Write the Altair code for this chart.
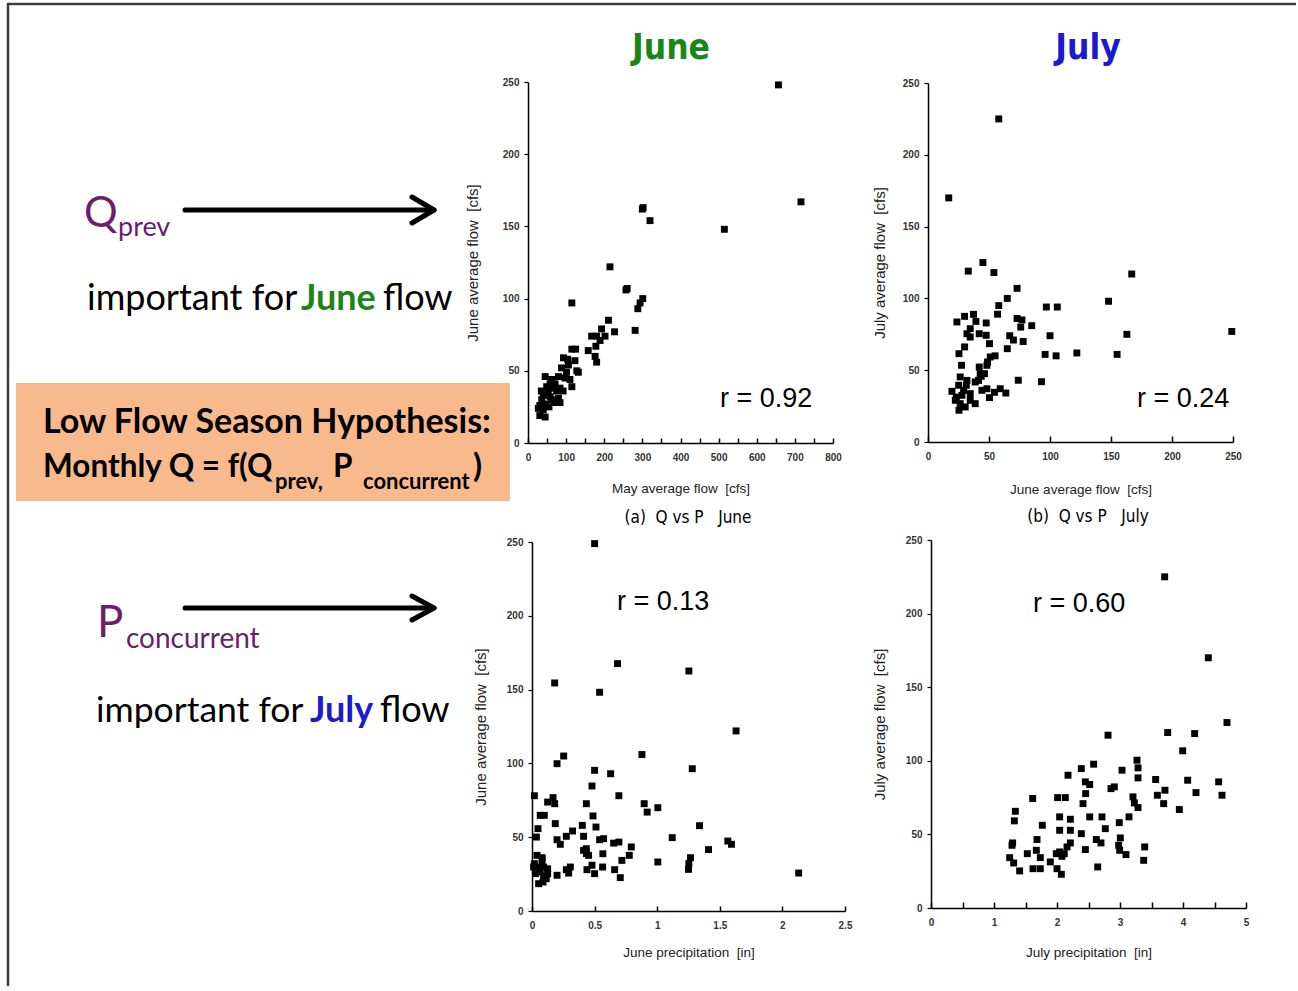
import altair as alt
import pandas as pd

W, H = 1296, 986

# ---------------- data ----------------
# (a) May average flow vs June average flow
a_may = [657, 716, 515, 300, 302, 320, 215, 115, 257, 260, 301, 294, 288, 211, 227, 281, 193, 180, 167, 202,
         189, 178, 176, 180, 158, 115, 125, 93, 123, 106, 128, 132, 101, 88, 80, 97, 71, 115, 84, 58,
         45, 62, 49, 75, 53, 40, 80, 62, 36, 84, 45, 31, 27, 40, 31, 45, 58, 66, 53,
         68, 92, 110, 104, 55, 35]
a_june = [248, 167, 148, 162, 163, 154, 122, 97, 106, 107, 100, 97, 93, 85, 77, 78, 79, 74, 74, 74,
          71, 67, 60, 56, 64, 65, 65, 59, 57, 54, 50, 49, 49, 52, 46, 45, 41, 39, 38, 41,
          46, 44, 39, 36, 34, 33, 31, 30, 30, 28, 27, 26, 24, 23, 19, 18, 32, 38, 38,
          28, 36, 44, 58, 25, 36]

# (b) June average flow vs July average flow
b_june = [58, 17, 45, 33, 54, 167, 148, 73, 65, 58, 57, 97, 106, 249, 163, 100, 85, 77, 76, 73,
          78, 70, 67, 65, 122, 96, 105, 155, 93, 74, 55,
          23.7, 30, 37.3, 39.3, 34.6, 31.9, 34.6, 30, 25.4, 27.5, 26.4, 31.9, 25.1, 19.6, 23.2, 26.4, 25.4,
          30.5, 34.6, 38.7, 38.7, 42.8, 42, 48.3, 46.3, 48.3, 44.2, 41.4, 50.4, 59.2, 63.8, 54.5, 47.7, 42,
          47.7, 50.4, 48.8, 43.6, 51, 29.2, 22.4, 27.8, 34.6, 31.4]
b_july = [225, 170, 125, 119, 118, 117, 98, 107, 100, 95, 89, 94, 94, 77, 75, 74, 81, 85, 80, 86,
          70, 71, 74, 65, 62, 61, 60, 61, 42, 43, 60,
          83.6, 87.5, 88.9, 84, 78.9, 75.4, 73.1, 66.2, 61.5, 53.4, 45.3, 42.9, 39.5, 35.3, 31.3, 26.7, 22.1,
          24.4, 33.7, 26.7, 41.8, 47.6, 52.2, 53.4, 47.6, 37.1, 36, 42.9, 30.9, 37.1, 34.1, 34.6, 74.3, 75.4,
          82.9, 68.5, 55.7, 45.7, 59.2, 36, 29, 32.5, 29, 39.5]

# (c) June precipitation vs June average flow
c_prec = [0.5, 0.683, 1.253, 0.181, 0.54, 1.63, 0.878, 0.253, 0.2, 1.28, 0.5, 0.628, 0.479, 0.019, 0.694,
          0.168, 0.181, 0.125, 0.434, 0.896, 0.92, 1.005, 0.066, 0.098, 0.487, 1.338, 0.186, 0.402, 0.511,
          0.048, 0.035, 0.324, 0.274, 0.2, 0.226, 0.412, 0.572, 0.54, 0.652, 0.694, 1.12, 1.564, 1.593, 1.41,
          0.793, 0.777, 0.718, 0.434, 0.434, 0.452, 0.412, 0.566, 1.005, 1.266, 1.253, 1.25, 2.13, 0.705,
          0.5, 0.564, 0.66, 0.439, 0.479, 0.306, 0.274, 0.293, 0.2,
          0.019, 0.045, 0.08, 0.093, 0.125, 0.066, 0.027, 0.093, 0.114, 0.053, 0.088, 0.04, 0.082, 0.013, 0.125]
c_flow = [248.9, 167.6, 162.6, 154.5, 148.2, 122, 106, 105, 99.8, 96.4, 95.3, 93, 84.7, 78.1, 78.1,
          76.8, 72.7, 73.8, 72.7, 72.7, 67, 70, 64.8, 64.8, 64.4, 57.8, 59.2, 58, 56.9,
          55.8, 50.1, 54.2, 50.6, 48.3, 45.2, 50.6, 49, 48.3, 46, 46.7, 49.7, 47.4, 45.2, 41.6,
          43.4, 37.7, 34.3, 42.2, 38.8, 37.7, 41.1, 38.8, 33.2, 36.1, 32.1, 28.2, 25.7, 22.6,
          25.3, 29.8, 28, 28, 31, 29.8, 28, 25.7, 24.2,
          32.1, 29.8, 33.2, 29.8, 28.6, 26.4, 25.3, 23.5, 21.9, 18.5, 19.6, 37.7, 36.1, 29.8, 25.3]

# (d) July precipitation vs July average flow
d_prec = [3.709, 4.402, 4.698, 3.757, 4.185, 2.81, 3.995, 3.27, 3.286, 3.286, 3.032, 2.582, 2.386, 2.175,
          3.566, 4.074, 4.566, 2.45, 2.519, 2.857, 2.91, 3.714, 4.206, 2.455, 3.593, 4.619, 2.01, 2.132,
          1.614, 3.206, 3.228, 2.413, 3.693, 3.286, 3.942, 1.339, 1.323, 2.042, 2.212, 2.519, 2.714, 3.143,
          2.989, 1.767, 2.767, 2.042, 2.212, 2.386, 1.683, 2.624, 2.698, 2.212, 3.005, 1.296, 1.286, 2.979,
          2.995, 3.095, 3.392, 3.376, 2.45, 1.672, 1.529, 1.989, 2.042, 2.079, 2.116, 2.159, 1.735, 1.249,
          1.312, 1.894, 1.407, 1.619, 1.735, 2.0, 2.069, 2.646]
d_flow = [225, 170, 126, 119.2, 118.5, 117.4, 106.8, 100.4, 95.2, 88.4, 93.6, 97.7, 94.7, 90.2,
          87.3, 86.8, 85.7, 85.7, 83.9, 81.1, 82.3, 80, 78.4, 77.7, 76.6, 76.6, 75, 75,
          74.4, 75.5, 71.4, 70.9, 70.9, 68.2, 66.9, 65.7, 59.2, 61.9, 60.3, 61.9, 61.9, 61.9,
          58, 56.2, 53.9, 52.8, 52.8, 50.5, 46.5, 46.5, 44.2, 44.2, 47.6, 44.2, 42.6, 42.6,
          39.2, 36.3, 41.5, 32.4, 39.7, 39.2, 36.9, 36.9, 38.1, 35.1, 36.9, 41.5, 34.2, 34.2,
          30.6, 31.3, 25.2, 26.7, 26.7, 26.7, 22.9, 27.9]

y_ticks = [0, 50, 100, 150, 200, 250]
a_xlabels = [0, 100, 200, 300, 400, 500, 600, 700, 800]
a_xticks = [0, 50, 100, 150, 200, 250, 300, 350, 400, 450, 500, 550, 600, 650, 700, 750, 800]
b_xlabels = [0, 50, 100, 150, 200, 250]
c_xlabels = [0, 0.5, 1, 1.5, 2, 2.5]
d_xlabels = [0, 1, 2, 3, 4, 5]
d_xticks = [0, 0.5, 1, 1.5, 2, 2.5, 3, 3.5, 4, 4.5, 5]

SP = "\u00a0"

# ---------------- styling helpers ----------------
FN = "DejaVu Sans Condensed, DejaVu Sans, sans-serif"
FR = "Liberation Sans, Arial, sans-serif"
FL = "Lato, Open Sans, sans-serif"
PURPLE = "#6B1E6E"
GREEN = "#19861A"
BLUE = "#1A1ACF"
ONE = pd.DataFrame({"k": [0]})


def text(s, x, y, size, color="black", weight="normal", font=FL, align="left"):
    return alt.Chart(pd.DataFrame({"t": [s]})).mark_text(
        font=font, fontSize=size, fontWeight=weight, color=color, align=align,
        baseline="alphabetic"
    ).encode(text="t:N", x=alt.value(x), y=alt.value(y))


def seg(x1, y1, x2, y2, width, color="black"):
    return alt.Chart(ONE).mark_rule(strokeWidth=width, color=color, strokeCap="round").encode(
        x=alt.value(x1), y=alt.value(y1), x2=alt.value(x2), y2=alt.value(y2))


def panel(xs, ys, xdom, xr, yr, xlabels, xticks, xtitle, ytitle, xtp, ytp, tsize=5):
    df = pd.DataFrame({"x": xs, "y": ys})
    xsc = alt.Scale(domain=xdom, range=xr, nice=False, zero=False)
    ysc = alt.Scale(domain=[0, 250], range=yr, nice=False, zero=False)
    main = alt.Chart(df).mark_square(size=48, color="black", opacity=1).encode(
        x=alt.X("x:Q", scale=xsc, axis=alt.Axis(
            orient="bottom", offset=yr[0] - H, values=xlabels, format=".1~f",
            ticks=False, tickSize=0, labelPadding=9, grid=False,
            domainColor="black", domainWidth=1.5,
            labelFont=FR, labelFontSize=10, labelFontWeight="bold", labelColor="#333",
            labelFlush=False, labelOverlap=False,
            title=xtitle, titleFont=FR, titleFontSize=13.5, titleFontWeight="normal",
            titleColor="#222", titlePadding=xtp)),
        y=alt.Y("y:Q", scale=ysc, axis=alt.Axis(
            orient="left", offset=-xr[0], values=y_ticks, format=".1~f",
            ticks=True, tickSize=4, tickWidth=1.2, tickColor="black", labelPadding=5, grid=False,
            domainColor="black", domainWidth=1.5,
            labelFont=FR, labelFontSize=10, labelFontWeight="bold", labelColor="#333",
            labelFlush=False, labelOverlap=False,
            title=ytitle, titleFont=FR, titleFontSize=15, titleFontWeight="normal",
            titleColor="#222", titlePadding=ytp)),
    )
    tick_layer = alt.Chart(df).mark_square(size=48, opacity=0).encode(
        x=alt.X("x:Q", scale=xsc, axis=alt.Axis(
            orient="top", offset=-yr[0], values=xticks, labels=False, domain=False,
            ticks=True, tickSize=tsize, tickWidth=1.5, tickColor="black", grid=False, title="")),
        y=alt.Y("y:Q", scale=ysc, axis=None),
    )
    return [main, tick_layer]


layers = []

# frame and box
layers.append(seg(8, 4, W, 4, 2.5, "#3c3c3c"))
layers.append(seg(8, 4, 8, H, 2.5, "#3c3c3c"))
layers.append(alt.Chart(ONE).mark_rect(color="#F8BA8C").encode(
    x=alt.value(16), x2=alt.value(510), y=alt.value(383), y2=alt.value(501)))

# column titles
layers.append(text("June", 671, 59, 35, GREEN, "bold", font=FN, align="center"))
layers.append(text("July", 1088, 59, 35, BLUE, "bold", font=FN, align="center"))

# Q_prev
layers.append(text("Q", 84, 227, 42, PURPLE))
layers.append(text("prev", 118, 236, 27, PURPLE))
layers.append(seg(185, 210, 432, 210, 5))
layers.append(seg(412, 197, 434, 210, 5))
layers.append(seg(412, 223, 434, 210, 5))
layers.append(text("important for", 87, 310, 36))
layers.append(text("June", 301, 310, 36, GREEN, "bold"))
layers.append(text("flow", 383, 310, 36))

# hypothesis box
layers.append(text("Low Flow Season Hypothesis:", 43, 433, 34, weight="bold"))
layers.append(text("Monthly Q = f(Q", 43, 477, 31.5, weight="bold"))
layers.append(text("prev,", 275, 489, 22, weight="bold"))
layers.append(text("P", 333, 477, 31.5, weight="bold"))
layers.append(text("concurrent", 363, 489, 22, weight="bold"))
layers.append(text(")", 473, 477, 33, weight="bold"))

# P_concurrent
layers.append(text("P", 97, 637, 44, PURPLE))
layers.append(text("concurrent", 126, 648, 28, PURPLE))
layers.append(seg(185, 608, 432, 608, 5))
layers.append(seg(412, 596, 434, 608, 5))
layers.append(seg(412, 620, 434, 608, 5))
layers.append(text("important for", 96, 722, 35.5))
layers.append(text("July", 310, 722, 36, BLUE, "bold"))
layers.append(text("flow", 380, 722, 36))

# panels
layers += panel(a_may, a_june, [0, 800], [528, 833], [443, 82], a_xlabels, a_xticks,
                "May average flow" + SP + " [cfs]", "June average flow" + SP + " [cfs]", 19, 22, 5)
layers += panel(b_june, b_july, [0, 250], [928, 1233], [442, 83], b_xlabels, b_xlabels,
                "June average flow" + SP + " [cfs]", "July average flow" + SP + " [cfs]", 21, 15, 6)
layers += panel(c_prec, c_flow, [0, 2.5], [532, 845], [911, 542], c_xlabels, c_xlabels,
                "June precipitation" + SP + " [in]", "June average flow" + SP + " [cfs]", 15, 18, 5)
layers += panel(d_prec, d_flow, [0, 5], [931, 1246], [908, 540], d_xlabels, d_xticks,
                "July precipitation" + SP + " [in]", "July average flow" + SP + " [cfs]", 18, 18, 6)

# correlation annotations and captions
layers.append(text("r = 0.92", 720, 407, 27, font=FR))
layers.append(text("r = 0.24", 1137, 407, 27, font=FR))
layers.append(text("r = 0.13", 617, 610, 27, font=FR))
layers.append(text("r = 0.60", 1033, 612, 27, font=FR))
layers.append(text("(a)" + SP + " Q vs P " + SP + SP + "June", 688, 523, 17, font=FN, align="center"))
layers.append(text("(b)" + SP + " Q vs P " + SP + SP + "July", 1088, 522, 17, font=FN, align="center"))

chart = alt.layer(*layers).resolve_scale(
    x="independent", y="independent"
).resolve_axis(
    x="independent", y="independent"
).properties(
    width=W, height=H, autosize=alt.AutoSizeParams(type="none"), padding=0, background="white"
).configure_view(strokeWidth=0)

chart.save("out.html", embed_options={"renderer": "svg", "actions": False})
